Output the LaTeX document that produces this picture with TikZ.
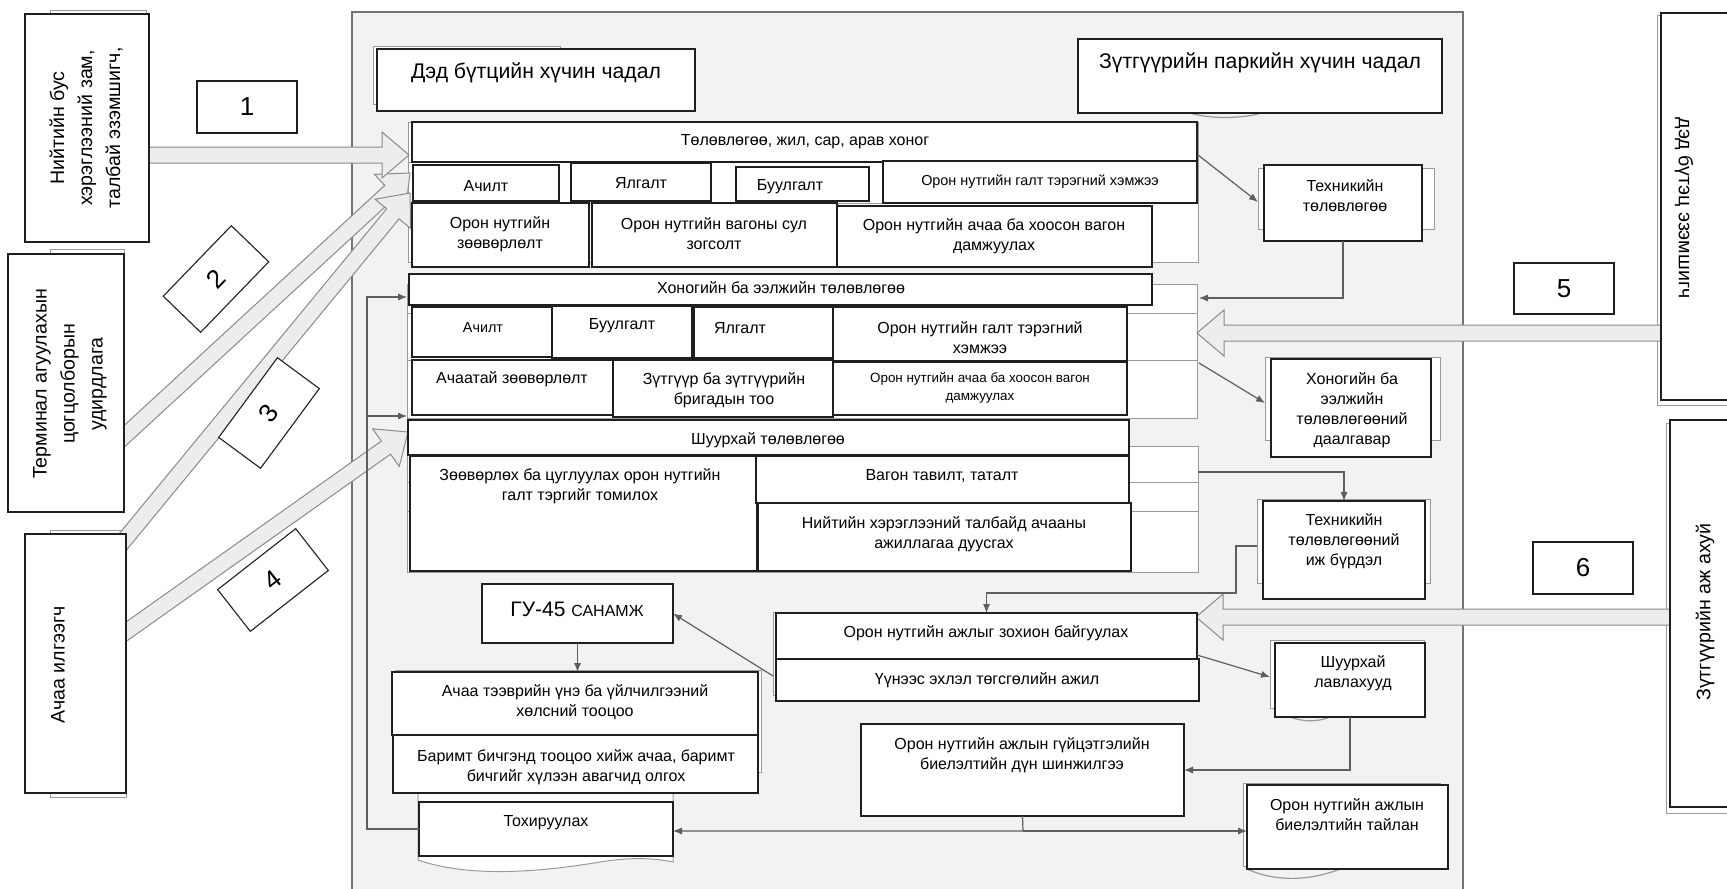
\documentclass[tikz,border=0pt]{standalone}
\usepackage{fontspec}
\setmainfont{Liberation Sans}
\usetikzlibrary{calc,arrows.meta,fit}
\definecolor{panelbg}{HTML}{F2F2F2}
\definecolor{linegray}{HTML}{5E5E5E}
\definecolor{shgray}{HTML}{9A9A9A}
\definecolor{arrowfill}{HTML}{EDEDED}
\definecolor{arrowline}{HTML}{8A8A8A}
\def\baw{4pt}\def\baW{11.5pt}\def\bah{13.5pt}
\tikzset{
  box/.style={draw=black!88, line width=0.55pt, fill=white, inner sep=0pt, outer sep=0pt},
  shadowbox/.style={draw=shgray, line width=0.5pt, fill=white},
  shadowline/.style={draw=shgray, line width=0.6pt},
  grprow/.style={draw=shgray, line width=0.5pt, fill=white},
  txt/.style={inner sep=0pt, align=center, font=\fontsize{8}{10}\selectfont},
  smalltxt/.style={font=\fontsize{6.7}{9}\selectfont},
  sidetxt/.style={font=\fontsize{9.8}{14}\selectfont},
  titletxt/.style={font=\fontsize{10.6}{13}\selectfont},
  numbox/.style={draw=black!88, line width=0.55pt, fill=white, inner sep=0pt, font=\fontsize{13}{13}\selectfont},
  conn/.style={draw=linegray, line width=0.6pt, -{Latex[length=4.5pt,width=3.6pt]}},
  blockarrow/.style={draw=arrowline, fill=arrowfill, line width=0.5pt, line join=miter,
    to path={
      ($(\tikztostart)!\baw!90:(\tikztotarget)$)
      -- ($($(\tikztotarget)!\bah!(\tikztostart)$)!\baw!90:(\tikztotarget)$)
      -- ($($(\tikztotarget)!\bah!(\tikztostart)$)!\baW!90:(\tikztotarget)$)
      -- (\tikztotarget)
      -- ($($(\tikztotarget)!\bah!(\tikztostart)$)!\baW!-90:(\tikztotarget)$)
      -- ($($(\tikztotarget)!\bah!(\tikztostart)$)!\baw!-90:(\tikztotarget)$)
      -- ($(\tikztostart)!\baw!-90:(\tikztotarget)$)
      -- cycle}},
}
% name, x1, y1, x2, y2, text x, text y, text
\newcommand\tbox[9][]{%
  \node[box, fit={(#3,#4) (#5,#6)}] (#2) {};
  \node[txt,#1] (#2-t) at (#7,#8) {#9};}

\begin{document}
\begin{tikzpicture}[x=0.5pt,y=-0.5pt]
\useasboundingbox (0,0) rectangle (1727,888);
\clip (0,0) rectangle (1727,888);
\fill[white] (0,0) rectangle (1727,888);

% main panel
\draw[draw=black!55, line width=0.6pt, fill=panelbg] (352,12) rectangle (1463,900);

% group panels
\foreach \a/\b in {122/162,162/203,203/262} \draw[grprow] (408,\a) rectangle (1198,\b);
\foreach \a/\b in {284/313,313/360,360/418} \draw[grprow] (407,\a) rectangle (1197,\b);
\foreach \a/\b in {446/482,482/511,511/572} \draw[grprow] (407,\a) rectangle (1198,\b);

% shadows
\draw[shadowbox] (373,47) rectangle (560,105);
\draw[shadowline] (1190,113) .. controls (1210,119) and (1240,119) .. (1262,113);
\draw[shadowbox] (1258,168) rectangle (1434,229);
\draw[shadowbox] (1265,357) rectangle (1440,440);
\draw[shadowbox] (1257,499) rectangle (1430,583);
\draw[shadowbox] (1270,640) rectangle (1424,708);
\draw[shadowline] (1290,717) .. controls (1303,722) and (1318,722) .. (1330,717);
\draw[shadowbox] (1243,783) rectangle (1440,866);
\draw[shadowline] (1247,869) .. controls (1275,882) and (1310,881) .. (1340,869);
\draw[shadowbox] (773,612) rectangle (1190,695);
\draw[shadowbox] (395,670) rectangle (761,772);
\draw[shadowbox] (418,793) -- (418,860) .. controls (470,878) and (540,872) .. (600,862)
  .. controls (630,857) and (655,858) .. (673,862) -- (673,793) -- cycle;
\draw[shadowbox] (50,11) rectangle (146,240);
\draw[shadowbox] (50,249) rectangle (124,510);
\draw[shadowbox] (50,530) rectangle (126,797);
\draw[shadowbox] (1657,16) rectangle (1790,405);
\draw[shadowbox] (1666,423) rectangle (1790,813);

% block arrows
\coordinate (a1s) at (149,155);  \coordinate (a1e) at (409,155);
\coordinate (a2s) at (118,442);  \coordinate (a2e) at (410,173);
\coordinate (a3s) at (112,555);  \coordinate (a3e) at (410,193);
\coordinate (a4s) at (120,636);  \coordinate (a4e) at (408,432);
\coordinate (a5s) at (1665,333); \coordinate (a5e) at (1197,333);
\coordinate (a6s) at (1672,617); \coordinate (a6e) at (1196,617);
\draw[blockarrow] (a2s) to (a2e);
\draw[blockarrow] (a3s) to (a3e);
\draw[blockarrow] (a1s) to (a1e);
\draw[blockarrow] (a4s) to (a4e);
\draw[blockarrow] (a5s) to (a5e);
\draw[blockarrow] (a6s) to (a6e);

% outside boxes
\tbox[sidetxt,rotate=90]{nonpub}{25}{14}{149}{242}{86}{128}{Нийтийн бус\\хэрэглээний зам,\\талбай эзэмшигч,}
\tbox[sidetxt,rotate=90]{term}{8}{254}{124}{512}{70}{384}{Терминал агуулахын\\цогцолборын\\удирдлага}
\tbox[sidetxt,rotate=90]{sender}{25}{534}{126}{793}{58}{665}{Ачаа илгээгч}
\tbox[sidetxt,rotate=-90]{infra}{1661}{13}{1790}{400}{1684}{208}{дэд бүтэц эзэмшигч}
\tbox[sidetxt,rotate=90]{loco}{1670}{420}{1790}{807}{1705}{612}{Зүтгүүрийн аж ахуй}

\node[numbox, minimum width=50pt, minimum height=26pt] (n1) at (247,107) {1};
\node[numbox, minimum width=49pt, minimum height=26pt, rotate=46] (n2) at (216,279) {2};
\node[numbox, minimum width=49.5pt, minimum height=26pt, rotate=53.6] (n3) at (269,413) {3};
\node[numbox, minimum width=49.5pt, minimum height=26.5pt, rotate=38] (n4) at (273,580) {4};
\node[numbox, minimum width=50pt, minimum height=25.5pt] (n5) at (1564,288.5) {5};
\node[numbox, minimum width=50pt, minimum height=26pt] (n6) at (1583,568) {6};

% inner boxes
\tbox[titletxt]{dbc}{377}{49}{695}{111}{536}{73}{Дэд бүтцийн хүчин чадал}
\tbox[titletxt]{zpc}{1078}{39}{1442}{113}{1260}{63}{Зүтгүүрийн паркийн хүчин чадал}

\tbox{plan}{412}{122}{1197}{162}{805}{142}{Төлөвлөгөө, жил, сар, арав хоног}
\tbox{ach1}{413}{165}{559}{201}{486}{186}{Ачилт}
\tbox{yal1}{571}{163}{711}{201}{641}{183}{Ялгалт}
\tbox{buu1}{736}{167}{869}{201}{790}{187}{Буулгалт}
\tbox[font=\fontsize{7.2}{9}\selectfont]{size1}{883}{161}{1197}{203}{1040}{182}{Орон нутгийн галт тэрэгний хэмжээ}
\tbox{zoov1}{412}{203}{589}{267}{500}{234}{Орон нутгийн\\зөөвөрлөлт}
\tbox{sul1}{592}{203}{837}{267}{714}{234}{Орон нутгийн вагоны сул\\зогсолт}
\tbox{dam1}{837}{206}{1152}{267}{994}{236}{Орон нутгийн ачаа ба хоосон вагон\\дамжуулах}

\tbox{daily}{409}{274}{1152}{305}{781}{288}{Хоногийн ба ээлжийн төлөвлөгөө}
\tbox[font=\fontsize{7.2}{9}\selectfont]{ach2}{412}{307}{552}{357}{483}{328}{Ачилт}
\tbox{buu2}{552}{306}{692}{358}{622}{326}{Буулгалт}
\tbox{yal2}{694}{307}{833}{358}{740}{328}{Ялгалт}
\tbox{size2}{833}{307}{1127}{361}{980}{338}{Орон нутгийн галт тэрэгний\\хэмжээ}
\tbox{zoov2}{412}{360}{613}{415}{512}{379}{Ачаатай зөөвөрлөлт}
\tbox{brig}{613}{360}{833}{417}{724}{390}{Зүтгүүр ба зүтгүүрийн\\бригадын тоо}
\tbox[smalltxt]{dam2}{833}{362}{1127}{415}{980}{388}{Орон нутгийн ачаа ба хоосон вагон\\дамжуулах}

\tbox{oper}{408}{420}{1129}{455}{768}{440}{Шуурхай төлөвлөгөө}
\tbox{assign}{410}{456}{757}{571}{580}{486}{Зөөвөрлөх ба цуглуулах орон нутгийн\\галт тэргийг томилох}
\tbox{wagon}{756}{456}{1129}{503}{942}{476}{Вагон тавилт, таталт}
\tbox{finish}{758}{503}{1131}{571}{944}{534}{Нийтийн хэрэглээний талбайд ачааны\\ажиллагаа дуусгах}

\tbox[font=\fontsize{10.5}{12}\selectfont]{gu}{482}{584}{673}{643}{577}{609}{ГУ-45 {\fontsize{8}{8}\selectfont САНАМЖ}}
\tbox{fee}{392}{672}{758}{735}{575}{702}{Ачаа тээврийн үнэ ба үйлчилгээний\\хөлсний тооцоо}
\tbox{docs}{393}{735}{758}{793}{576}{767}{Баримт бичгэнд тооцоо хийж ачаа, баримт\\бичгийг хүлээн авагчид олгох}
\tbox{tohir}{419}{802}{673}{856}{546}{823}{Тохируулах}
\tbox{org}{776}{613}{1197}{659}{986}{633}{Орон нутгийн ажлыг зохион байгуулах}
\tbox{endw}{776}{659}{1199}{701}{987}{680}{Үүнээс эхлэл төгсгөлийн ажил}
\tbox{anal}{861}{724}{1184}{816}{1022}{755}{Орон нутгийн ажлын гүйцэтгэлийн\\биелэлтийн дүн шинжилгээ}
\tbox{report}{1247}{785}{1448}{869}{1347}{815}{Орон нутгийн ажлын\\биелэлтийн тайлан}
\tbox{lavl}{1275}{643}{1425}{717}{1353}{673}{Шуурхай\\лавлахууд}
\tbox{tcomp}{1263}{501}{1425}{599}{1344}{541}{Техникийн\\төлөвлөгөөний\\иж бүрдэл}
\tbox{task}{1271}{359}{1431}{457}{1352}{410}{Хоногийн ба\\ээлжийн\\төлөвлөгөөний\\даалгавар}
\tbox{tplan}{1264}{165}{1422}{241}{1345}{196}{Техникийн\\төлөвлөгөө}

% connectors
\coordinate (c1s) at (1198,155);  \coordinate (c1e) at (1258,202);
\coordinate (c2e) at (1199,298);
\coordinate (c3s) at (1199,363);  \coordinate (c3e) at (1265,403);
\coordinate (c4s) at (1198,472);
\coordinate (c5s) at (1257,546);  \coordinate (c5m) at (1236,593);
\coordinate (c6s) at (1197,655);  \coordinate (c6e) at (1270,677);
\coordinate (c8j) at (1023,831);
\coordinate (c10s) at (773,676);
\coordinate (l1) at (367,297);    \coordinate (l1e) at (407,297);
\coordinate (l2) at (367,416);    \coordinate (l2e) at (407,416);

\draw[conn] (c1s) -- (c1e);
\draw[conn] (tplan.south) |- (c2e);
\draw[conn] (c3s) -- (c3e);
\draw[conn] (c4s) -| (tcomp.north);
\draw[conn] (c5s) -| (c5m) -| (org.north);
\draw[conn] (c6s) -- (c6e);
\draw[conn] (lavl.south) |- (anal.east);
\draw[conn] (anal.south) -- (c8j) -- (tohir.east |- c8j);
\draw[conn] (c8j) -- (report.west |- c8j);
\draw[conn] (gu.south) -- (gu.south |- fee.north);
\draw[conn] (c10s) -- (gu.east);
\draw[conn] (tohir.west) -| (l1) -- (l1e);
\draw[conn] (l2) -- (l2e);
\end{tikzpicture}
\end{document}
